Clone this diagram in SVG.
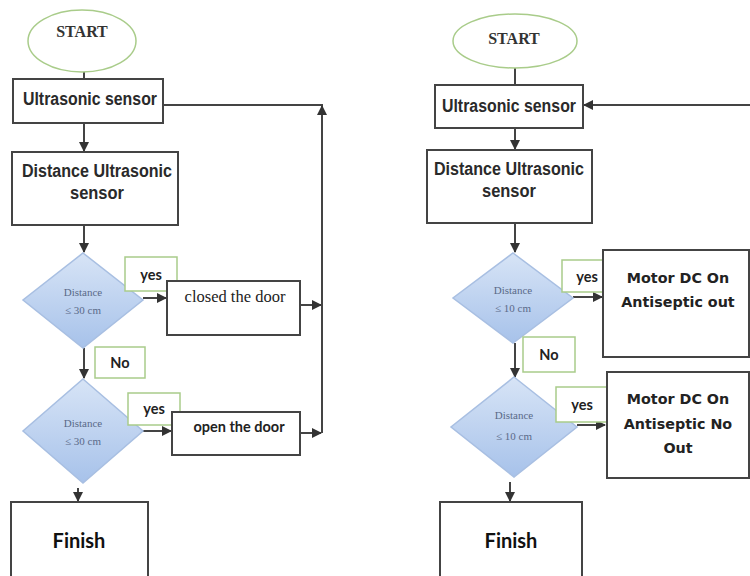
<svg xmlns="http://www.w3.org/2000/svg" width="750" height="576" viewBox="0 0 750 576">
<defs>
<linearGradient id="dg" x1="0" y1="0" x2="0" y2="1">
<stop offset="0" stop-color="#d7e4f6"/>
<stop offset="1" stop-color="#a7c2ea"/>
</linearGradient>
<marker id="ah" viewBox="0 0 10 10" refX="9" refY="5" markerWidth="5" markerHeight="5" orient="auto-start-reverse">
<path d="M0,0 L10,5 L0,10 z" fill="#333"/>
</marker>
<style>
.box{fill:#fff;stroke:#444;stroke-width:2}
.lab{fill:#fff;stroke:#a9cc8a;stroke-width:1.5}
.ell{fill:#fff;stroke:#a9cc8a;stroke-width:1.5}
.dia{fill:url(#dg);stroke:#a8bfe2;stroke-width:1.5}
.ln{fill:none;stroke:#444;stroke-width:2}
.arr{fill:none;stroke:#444;stroke-width:2;marker-end:url(#ah)}
.st{font-family:"Liberation Serif",serif;font-weight:bold;font-size:16px;fill:#333}
.sn{font-family:"Liberation Sans",sans-serif;font-weight:bold;font-size:18px;fill:#2a2a2a}
.dt{font-family:"Liberation Serif",serif;font-size:11px;fill:#5a6a88}
.yn{font-family:Lato,"Liberation Sans",sans-serif;font-weight:bold;font-size:14.5px;fill:#222}
.cd{font-family:"Liberation Serif",serif;font-size:16.5px;fill:#222}
.od{font-family:Lato,"Liberation Sans",sans-serif;font-weight:bold;font-size:14.5px;fill:#222}
.mt{font-family:"DejaVu Sans",sans-serif;font-weight:bold;font-size:14.3px;fill:#222}
.fn{font-family:Lato,"Liberation Sans",sans-serif;font-weight:bold;font-size:20px;fill:#111}
</style>
</defs>

<g id="connectors">
<line class="ln" x1="84" y1="72" x2="84" y2="79"/>
<line class="arr" x1="84" y1="123" x2="84" y2="151"/>
<line class="arr" x1="84" y1="225" x2="84" y2="252"/>
<line class="arr" x1="143" y1="298" x2="166" y2="298"/>
<line class="arr" x1="84" y1="348" x2="84" y2="378"/>
<line class="arr" x1="143" y1="431" x2="171" y2="431"/>
<line class="arr" x1="300" y1="305" x2="321" y2="305"/>
<line class="arr" x1="300" y1="433" x2="321" y2="433"/>
<polyline class="ln" points="322,433 322,105 163,105"/>
<line class="arr" x1="322" y1="130" x2="322" y2="106"/>
<line class="arr" x1="78" y1="488" x2="78" y2="501"/>
<line class="ln" x1="515" y1="68" x2="515" y2="85"/>
<line class="arr" x1="515" y1="128" x2="515" y2="149"/>
<line class="arr" x1="515" y1="223" x2="515" y2="252"/>
<line class="arr" x1="573" y1="297" x2="602" y2="297"/>
<line class="arr" x1="515" y1="343" x2="515" y2="377"/>
<line class="arr" x1="577" y1="425" x2="605" y2="425"/>
<line class="arr" x1="750" y1="105" x2="584" y2="105"/>
<line class="arr" x1="510" y1="482" x2="510" y2="501"/>
</g>

<g id="start1"><ellipse class="ell" cx="82" cy="41" rx="54" ry="31"/><text class="st" x="82" y="37" text-anchor="middle">START</text></g>
<g id="us1"><rect class="box" x="13" y="79" width="150" height="44"/><text class="sn" x="90" y="105" text-anchor="middle" textLength="134" lengthAdjust="spacingAndGlyphs">Ultrasonic sensor</text></g>
<g id="dus1"><rect class="box" x="12" y="152" width="166" height="73"/><text class="sn" x="97" y="177" text-anchor="middle" textLength="150" lengthAdjust="spacingAndGlyphs">Distance Ultrasonic</text><text class="sn" x="97" y="199" text-anchor="middle" textLength="54" lengthAdjust="spacingAndGlyphs">sensor</text></g>
<g id="d1"><polygon class="dia" points="83,253 143,300 83,348 23,300"/><text class="dt" x="83" y="296" text-anchor="middle">Distance</text><text class="dt" x="83" y="314" text-anchor="middle">≤ 30 cm</text></g>
<g id="yes1"><rect class="lab" x="125" y="257" width="52" height="34"/><text class="yn" x="151" y="280" text-anchor="middle">yes</text></g>
<g id="close"><rect class="box" x="167" y="281" width="133" height="54"/><text class="cd" x="235" y="302" text-anchor="middle">closed the door</text></g>
<g id="no1"><rect class="lab" x="95" y="347" width="50" height="31"/><text class="yn" x="120" y="368" text-anchor="middle">No</text></g>
<g id="d2"><polygon class="dia" points="83,379 143,431 83,483 23,431"/><text class="dt" x="83" y="427" text-anchor="middle">Distance</text><text class="dt" x="83" y="445" text-anchor="middle">≤ 30 cm</text></g>
<g id="yes2"><rect class="lab" x="128" y="393" width="52" height="32"/><text class="yn" x="154" y="414" text-anchor="middle">yes</text></g>
<g id="open"><rect class="box" x="172" y="412" width="128" height="43"/><text class="od" x="239" y="432" text-anchor="middle">open the door</text></g>
<g id="fin1"><rect class="box" x="11" y="502" width="137" height="80"/><text class="fn" x="79" y="548" text-anchor="middle">Finish</text></g>

<g id="start2"><ellipse class="ell" cx="515" cy="41" rx="62" ry="27"/><text class="st" x="514" y="44" text-anchor="middle">START</text></g>
<g id="us2"><rect class="box" x="435" y="85" width="148" height="43"/><text class="sn" x="509" y="112" text-anchor="middle" textLength="134" lengthAdjust="spacingAndGlyphs">Ultrasonic sensor</text></g>
<g id="dus2"><rect class="box" x="427" y="150" width="165" height="73"/><text class="sn" x="509" y="175" text-anchor="middle" textLength="150" lengthAdjust="spacingAndGlyphs">Distance Ultrasonic</text><text class="sn" x="509" y="197" text-anchor="middle" textLength="54" lengthAdjust="spacingAndGlyphs">sensor</text></g>
<g id="d3"><polygon class="dia" points="513,253 573,298 513,343 453,298"/><text class="dt" x="513" y="294" text-anchor="middle">Distance</text><text class="dt" x="513" y="312" text-anchor="middle">≤ 10 cm</text></g>
<g id="yes3"><rect class="lab" x="562" y="260" width="50" height="32"/><text class="yn" x="587" y="282" text-anchor="middle">yes</text></g>
<g id="m1"><rect class="box" x="603" y="250" width="146" height="107"/><text class="mt" x="678" y="283" text-anchor="middle">Motor DC On</text><text class="mt" x="678" y="307" text-anchor="middle">Antiseptic out</text></g>
<g id="no2"><rect class="lab" x="523" y="337" width="52" height="35"/><text class="yn" x="549" y="360" text-anchor="middle">No</text></g>
<g id="d4"><polygon class="dia" points="514,377 577,427 514,477 451,427"/><text class="dt" x="514" y="419" text-anchor="middle">Distance</text><text class="dt" x="514" y="440" text-anchor="middle">≤ 10 cm</text></g>
<g id="yes4"><rect class="lab" x="556" y="387" width="52" height="35"/><text class="yn" x="582" y="410" text-anchor="middle">yes</text></g>
<g id="m2"><rect class="box" x="607" y="372" width="142" height="106"/><text class="mt" x="678" y="404" text-anchor="middle">Motor DC On</text><text class="mt" x="678" y="429" text-anchor="middle">Antiseptic No</text><text class="mt" x="678" y="453" text-anchor="middle">Out</text></g>
<g id="fin2"><rect class="box" x="440" y="502" width="142" height="80"/><text class="fn" x="511" y="548" text-anchor="middle">Finish</text></g>
</svg>
